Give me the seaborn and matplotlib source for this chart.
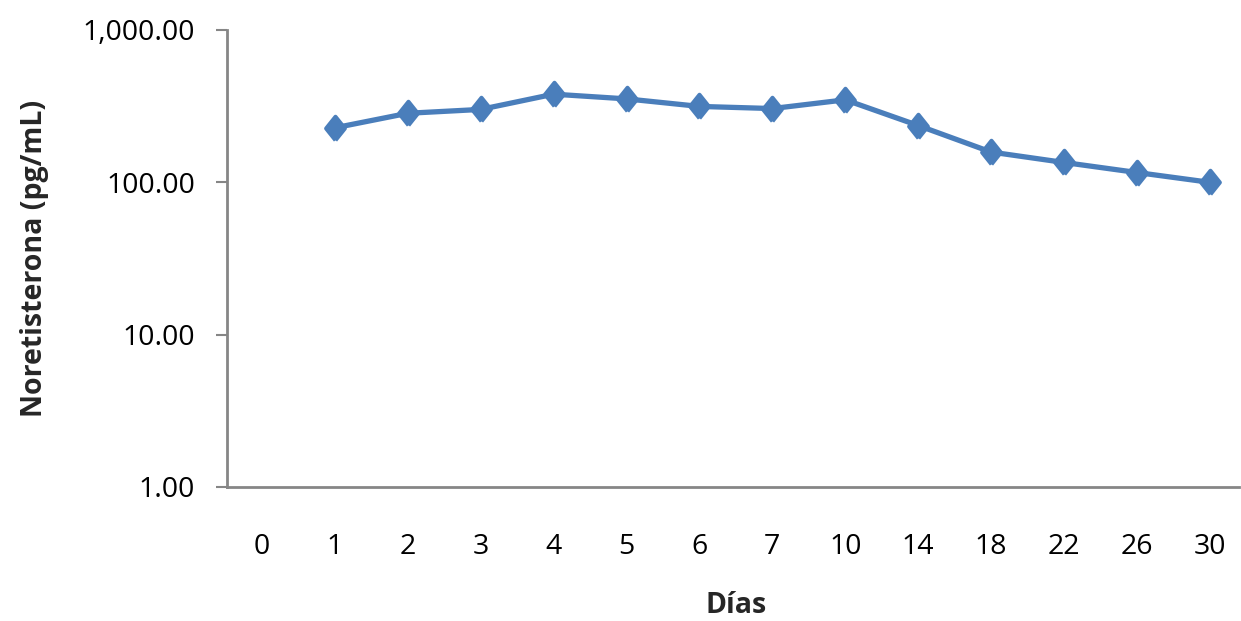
import matplotlib
matplotlib.use("Agg")
import matplotlib.pyplot as plt
import matplotlib.ticker as mticker
import numpy as np
import pandas as pd
import seaborn as sns

# ── Data ─────────────────────────────────────────────────
dias = ["0", "1", "2", "3", "4", "5", "6", "7", "10", "14", "18", "22", "26", "30"]
noretisterona = [np.nan, 228, 284, 301, 379, 353, 315, 305, 348, 236, 158, 135, 116, 100]
y_ticks = [1, 10, 100, 1000]

df = pd.DataFrame({"Días": dias, "Noretisterona": noretisterona})

# ── Style ────────────────────────────────────────────────
sns.set_theme(style="white")
plt.rcParams["font.family"] = ["Open Sans", "DejaVu Sans"]
LINE_BLUE = "#4A7EBB"
AXIS_GREY = "#868686"
diamond = [(0, -1.25), (1, 0), (0, 1.25), (-1, 0), (0, -1.25)]

fig = plt.figure(figsize=(12.41, 6.21), dpi=100)
ax = fig.add_axes([0.1829, 0.2158, 0.8155, 0.7359])

sns.pointplot(data=df, x="Días", y="Noretisterona", order=dias,
              color=LINE_BLUE, marker=diamond, markersize=17,
              linewidth=3.8, errorbar=None, ax=ax)

ax.set_yscale("log")
ax.set_ylim(1, 1000)
ax.set_yticks(y_ticks)
ax.yaxis.set_major_formatter(mticker.FuncFormatter(lambda v, p: f"{v:,.2f}"))
ax.yaxis.set_minor_locator(mticker.NullLocator())
ax.set_xlim(-0.48, 13.4)

for side in ["top", "right"]:
    ax.spines[side].set_visible(False)
for side in ["left", "bottom"]:
    ax.spines[side].set_color(AXIS_GREY)
    ax.spines[side].set_linewidth(2)

ax.tick_params(axis="y", which="major", left=True, length=8, width=1.5,
               color=AXIS_GREY, labelsize=20.5, pad=15, labelcolor="black")
ax.tick_params(axis="x", bottom=False, labelsize=20.5, pad=27, labelcolor="black")

ax.set_xlabel("Días", fontsize=20.5, fontweight="bold")
ax.set_ylabel("Noretisterona (pg/mL)", fontsize=20.5, fontweight="bold")
ax.xaxis.set_label_coords(0.503, -0.228)
ax.yaxis.set_label_coords(-0.176, 0.5)
ax.grid(False)

fig.savefig("out.png", dpi=100)
